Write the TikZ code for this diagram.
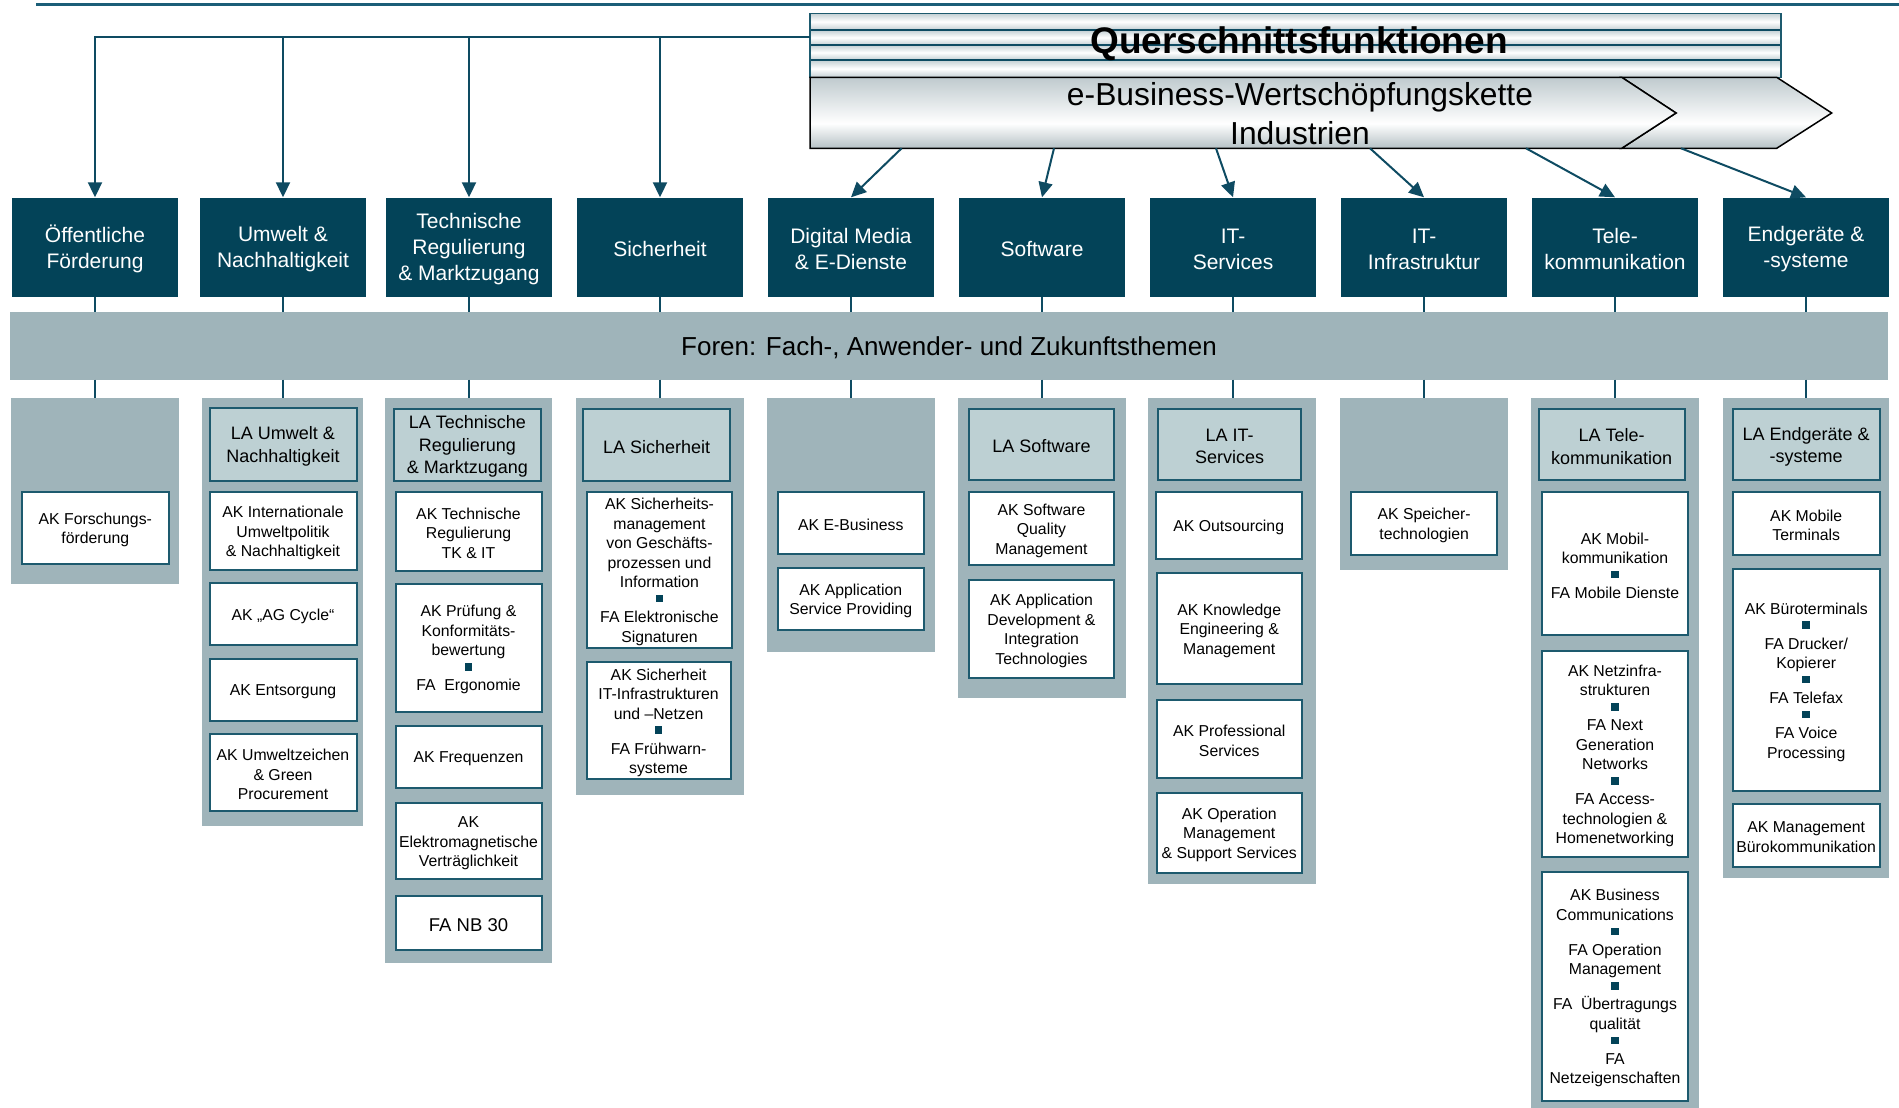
\documentclass[tikz,border=0pt]{standalone}
\usepackage{fontspec}
\setmainfont{Liberation Sans}
\usetikzlibrary{arrows.meta}
\definecolor{dk}{HTML}{034358}
\definecolor{pn}{HTML}{9FB4BA}
\definecolor{la}{HTML}{BDD0D3}
\definecolor{bd}{HTML}{1D5A6E}
\definecolor{ln}{HTML}{0E4B62}
\definecolor{tl}{HTML}{1B5E78}
\definecolor{sg}{HTML}{C3CFD3}
\definecolor{ct}{HTML}{BFCACE}
\definecolor{cb}{HTML}{B5C1C5}
\pgfdeclareverticalshading{chev}{100bp}{color(0bp)=(cb); color(25bp)=(cb); color(42.5bp)=(white); color(75bp)=(ct); color(100bp)=(ct)}
\newcommand\bx[7]{\node[#1, minimum width={#5-#3}, minimum height={#6-#4}] (#2) at ({(#3+#5)/2},{(#4+#6)/2}) {};
  \node[#1, draw=none, fill=none, yshift=-2pt] (#2t) at (#2.center) {#7};}
\newcommand\sqb{\\[-4.75pt]{\color{dk}\rule{7.5pt}{7.5pt}}\\[0.75pt]}
\tikzset{
  dbox/.style={fill=dk, text=white, inner sep=1pt, align=center, font=\fontsize{21}{26}\selectfont},
  forum/.style={fill=pn, inner sep=1pt, font=\fontsize{26}{30}\selectfont},
  panel/.style={fill=pn, inner sep=0pt},
  labox/.style={fill=la, draw=bd, line width=2pt, inner sep=1pt, align=center, font=\fontsize{18}{22.4}\selectfont},
  akbox/.style={fill=white, draw=bd, line width=2pt, inner sep=1pt, align=center, font=\fontsize{15.8}{19.5}\selectfont},
  conn/.style={draw=ln, line width=2pt},
  arr/.style={conn, -{Triangle[length=15pt,width=14pt]}},
}
\begin{document}
\begin{tikzpicture}[x=1pt,y=-1pt]
\useasboundingbox (0,0) rectangle (1899,1108);
% top rule
\coordinate (tl1) at (36,4.5);
\coordinate (tl2) at (1899,4.5);
\draw[draw=tl, line width=3pt] (tl1) -- (tl2);
% Querschnittsfunktionen (striped)
\foreach \a/\b in {13.3/30,30/45,45/60,60/77.3} {
  \shade[top color=sg, bottom color=sg, middle color=white] (810,\a) rectangle (1781,\b);
}
\foreach \y in {30,45,60} {\draw[draw=ln, line width=1.6pt] (810,\y) -- (1781,\y);}
\node[draw=bd, line width=1.2pt, minimum width=971, minimum height=64, inner sep=0pt] (qf) at (1295.5,45.3) {};
\node[font=\bfseries\fontsize{37}{40}\selectfont, anchor=base, inner sep=0pt] (qft) at (1299,53.3) {Querschnittsfunktionen};
% value chain chevrons
\shadedraw[shading=chev, draw=black, line width=1.5pt] (1621.7,77.3) -- (1776.7,77.3) -- (1831.7,113) -- (1776.7,148.3) -- (1621.7,148.3) -- (1676,113) -- cycle;
\shadedraw[shading=chev, draw=black, line width=1.5pt] (810,77.3) -- (1621.7,77.3) -- (1676,113) -- (1621.7,148.3) -- (810,148.3) -- cycle;
\node[font=\fontsize{31.8}{38}\selectfont, anchor=base, inner sep=0pt] (eb1) at (1300,105.5) {e-Business-Wertschöpfungskette};
\node[font=\fontsize{31.8}{38}\selectfont, anchor=base, inner sep=0pt] (eb2) at (1300,144) {Industrien};
% dark boxes
\bx{dbox}{b1}{12}{197.5}{178}{296.5}{Öffentliche\\Förderung}
\bx{dbox}{b2}{200}{197.5}{366}{296.5}{Umwelt \&\\Nachhaltigkeit}
\bx{dbox}{b3}{386}{197.5}{552}{296.5}{Technische\\Regulierung\\\& Marktzugang}
\bx{dbox}{b4}{577}{197.5}{743}{296.5}{Sicherheit}
\bx{dbox}{b5}{768}{197.5}{934}{296.5}{Digital Media\\\& E-Dienste}
\bx{dbox}{b6}{959}{197.5}{1125}{296.5}{Software}
\bx{dbox}{b7}{1150}{197.5}{1316}{296.5}{IT-\\Services}
\bx{dbox}{b8}{1341}{197.5}{1507}{296.5}{IT-\\Infrastruktur}
\bx{dbox}{b9}{1532}{197.5}{1698}{296.5}{Tele-\\kommunikation}
\bx{dbox}{b10}{1723}{197.5}{1889}{296.5}{Endgeräte \&\\-systeme}
% forum bar
\bx{forum}{fo}{10}{312}{1888}{379.5}{Foren: Fach-, Anwender- und Zukunftsthemen}
% panels
\bx{panel}{p1}{11}{398}{178.5}{584}{}
\bx{panel}{p2}{202.3}{398}{362.7}{826}{}
\bx{panel}{p3}{385}{398}{552}{963}{}
\bx{panel}{p4}{576}{398}{744}{794.5}{}
\bx{panel}{p5}{767}{398}{934.6}{652}{}
\bx{panel}{p6}{958}{398}{1125.5}{697.5}{}
\bx{panel}{p7}{1148}{398}{1316}{884}{}
\bx{panel}{p8}{1340}{398}{1507.6}{570}{}
\bx{panel}{p9}{1531}{398}{1698.5}{1110}{}
\bx{panel}{p10}{1722.5}{398}{1889}{878}{}
% panel 1
\bx{akbox}{a11}{22}{491.7}{168.6}{564}{AK Forschungs-\\förderung}
% panel 2
\bx{labox}{l2}{209.5}{408.3}{356.5}{480.7}{LA Umwelt \&\\Nachhaltigkeit}
\bx{akbox}{a21}{209.5}{492}{356.5}{570}{AK Internationale\\Umweltpolitik\\\& Nachhaltigkeit}
\bx{akbox}{a22}{209.5}{583}{356.5}{645}{AK „AG Cycle“}
\bx{akbox}{a23}{209.5}{659}{356.5}{721}{AK Entsorgung}
\bx{akbox}{a24}{209.5}{734}{356.5}{811}{AK Umweltzeichen\\\& Green\\Procurement}
% panel 3
\bx{labox}{l3}{394}{408.7}{540.7}{480.6}{LA Technische\\Regulierung\\\& Marktzugang}
\bx{akbox}{a31}{395.5}{491.7}{541.5}{570.6}{AK Technische\\Regulierung\\TK \& IT}
\bx{akbox}{a32}{395.5}{584}{541.5}{711.8}{AK Prüfung \&\\Konformitäts-\\bewertung\sqb FA~~Ergonomie}
\bx{akbox}{a33}{395.5}{725.6}{541.5}{787.6}{AK Frequenzen}
\bx{akbox}{a34}{395.5}{803}{541.5}{879.4}{AK\\Elektromagnetische\\Verträglichkeit}
\bx{akbox}{a35}{395.5}{895.5}{541.5}{950.2}{\fontsize{18.5}{22}\selectfont FA NB 30}
% panel 4
\bx{labox}{l4}{583.3}{408.7}{730}{480.6}{LA Sicherheit}
\bx{akbox}{a41}{586.7}{491.7}{732.3}{648}{AK Sicherheits-\\management\\von Geschäfts-\\prozessen und\\Information\sqb FA Elektronische\\Signaturen}
\bx{akbox}{a42}{586.7}{662.4}{730.5}{779}{AK Sicherheit\\IT-Infrastrukturen\\und –Netzen\sqb FA Frühwarn-\\systeme}
% panel 5
\bx{akbox}{a51}{777.7}{492}{923.9}{554}{AK E-Business}
\bx{akbox}{a52}{777.7}{568}{923.9}{630}{AK Application\\Service Providing}
% panel 6
\bx{labox}{l6}{968.6}{408.7}{1114.4}{480}{LA Software}
\bx{akbox}{a61}{968.6}{492}{1114.4}{565}{AK Software\\Quality\\Management}
\bx{akbox}{a62}{968.6}{580.3}{1114.4}{677.7}{AK Application\\Development \&\\Integration\\Technologies}
% panel 7
\bx{labox}{l7}{1158}{408.7}{1301.2}{480}{LA IT-\\Services}
\bx{akbox}{a71}{1156}{492}{1301.5}{559}{AK Outsourcing}
\bx{akbox}{a72}{1156.5}{573.3}{1302}{684.3}{AK Knowledge\\Engineering \&\\Management}
\bx{akbox}{a73}{1156.5}{700}{1302}{777.7}{AK Professional\\Services}
\bx{akbox}{a74}{1156.5}{792.7}{1302}{873}{AK Operation\\Management\\\& Support Services}
% panel 8
\bx{akbox}{a81}{1351}{491.9}{1497.3}{554.6}{AK Speicher-\\technologien}
% panel 9
\bx{labox}{l9}{1538.6}{408.8}{1684.8}{480.3}{LA Tele-\\kommunikation}
\bx{akbox}{a91}{1542}{491.9}{1688}{635.3}{AK Mobil-\\kommunikation\sqb FA Mobile Dienste}
\bx{akbox}{a92}{1542}{651}{1688}{857}{AK Netzinfra-\\strukturen\sqb FA Next\\Generation\\Networks\sqb FA Access-\\technologien \&\\Homenetworking}
\bx{akbox}{a93}{1542}{872}{1688}{1100.5}{AK Business\\Communications\sqb FA Operation\\Management\sqb FA~~Übertragungs\\qualität\sqb FA\\Netzeigenschaften}
% panel 10
\bx{labox}{l10}{1732.9}{408.8}{1879.5}{480.3}{LA Endgeräte \&\\-systeme}
\bx{akbox}{a101}{1732.9}{491.9}{1879.5}{554.6}{AK Mobile\\Terminals}
\bx{akbox}{a102}{1732.9}{569.4}{1879.5}{790.9}{AK Büroterminals\sqb FA Drucker/\\Kopierer\sqb FA Telefax\sqb FA Voice\\Processing}
\bx{akbox}{a103}{1732.9}{803.9}{1879.5}{866.5}{AK Management\\Bürokommunikation}
% connectors box -> forum -> panel
\foreach \i in {1,...,10} {
  \draw[conn] (b\i.south) -- (b\i.south |- fo.north);
  \draw[conn] (b\i.south |- fo.south) -- (b\i.south |- p\i.north);
}
% arrows from Querschnittsfunktionen
\coordinate (hub) at (810,37.3);
\draw[arr] (hub) -| (b1.north);
\foreach \i in {2,3,4} {\draw[arr] (b\i.north |- hub) -- (b\i.north);}
% arrows from value chain
\coordinate (c5) at (901.6,148.3);
\coordinate (c6) at (1054,148.3);
\coordinate (c7) at (1216,148.3);
\coordinate (c8) at (1370,148.3);
\coordinate (c9) at (1526,148.3);
\coordinate (c10) at (1681,148.3);
\foreach \i in {5,...,10} {\draw[arr] (c\i) -- (b\i.north);}
\end{tikzpicture}
\end{document}
